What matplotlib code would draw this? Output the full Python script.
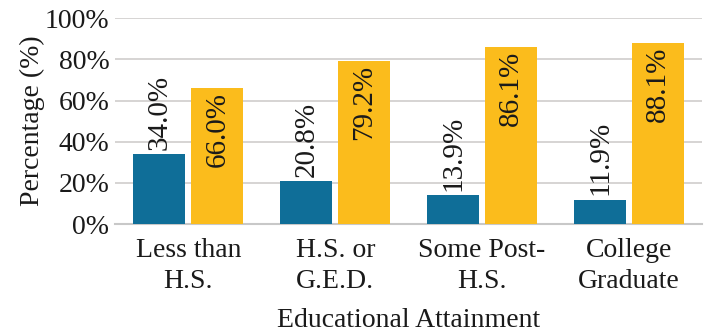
import matplotlib.pyplot as plt
import numpy as np

categories = ['Less than\nH.S.', 'H.S. or\nG.E.D.', 'Some Post-\nH.S.', 'College\nGraduate']
blue_vals = [34.0, 20.8, 13.9, 11.9]
gold_vals = [66.0, 79.2, 86.1, 88.1]
yticks = [0, 20, 40, 60, 80, 100]

plt.rcParams['font.family'] = ['Liberation Serif', 'DejaVu Serif']

fig = plt.figure(figsize=(7.12, 3.32), dpi=100)
ax = fig.add_axes([0.1615, 0.325, 0.825, 0.62])

x = np.arange(len(categories))
w = 0.354
off = 0.197
b1 = ax.bar(x - off, blue_vals, w, color='#0f6e98', zorder=3)
b2 = ax.bar(x + off, gold_vals, w, color='#fbbc1c', zorder=3)

# blue labels sit above the bar, gold labels inside the top of the bar
for rect, v in zip(b1, blue_vals):
    ax.text(rect.get_x() + rect.get_width() / 2, v + 2, f'{v:.1f}%',
            rotation=90, ha='center', va='bottom', fontsize=21, color='#1a1a1a')
for rect, v in zip(b2, gold_vals):
    ax.text(rect.get_x() + rect.get_width() / 2, v - 2, f'{v:.1f}%',
            rotation=90, ha='center', va='top', fontsize=21, color='#1a1a1a')

ax.set_xlim(-0.5, len(categories) - 0.5)
ax.set_ylim(0, 100)
ax.set_yticks(yticks)
ax.set_yticklabels([f'{t}%' for t in yticks])
ax.set_xticks(x)
ax.set_xticklabels(categories, linespacing=1.3)
ax.tick_params(axis='both', length=0, labelsize=20, colors='#1a1a1a')
ax.tick_params(axis='x', pad=10)
ax.tick_params(axis='y', pad=4)

ax.yaxis.grid(True, color='#d3d1d0', linewidth=1.3, zorder=0)
for s in ['top', 'right', 'left']:
    ax.spines[s].set_visible(False)
ax.spines['bottom'].set_color('#c8c8c8')
ax.spines['bottom'].set_linewidth(1.5)

ax.set_xlabel('Educational Attainment', fontsize=20, color='#1a1a1a', labelpad=10)
ax.set_ylabel('Percentage (%)', fontsize=20, color='#1a1a1a', labelpad=0)

fig.savefig('out.png', dpi=100)
